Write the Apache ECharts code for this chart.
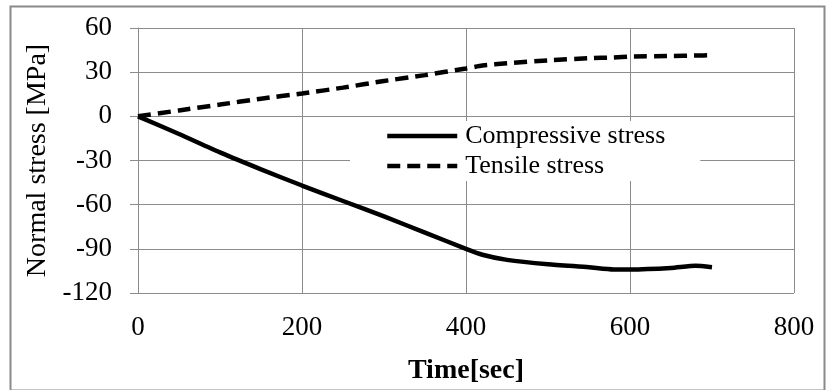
<!DOCTYPE html>
<html>
<head>
<meta charset="utf-8">
<script src="https://cdn.jsdelivr.net/npm/echarts@6/dist/echarts.min.js"></script>
<style>html,body{margin:0;padding:0;background:#fff}#c{width:827px;height:390px}</style>
</head>
<body>
<div id="c"></div>
<script>
var timeSec = [0, 50, 100, 150, 200, 250, 300, 350, 400, 420, 450, 500, 550, 580, 600, 650, 680, 700];
var compressive = [0, -12, -24.5, -36, -47, -57.5, -68, -79, -90, -94, -97.5, -100.5, -102.5, -104, -104, -103, -101.5, -102.5];
var tensile = [0, 4, 8, 12, 15.5, 19.5, 24, 28, 32.5, 34.5, 36, 38, 39.5, 40, 40.6, 41, 41.3, 41.5];
var seriesNames = ['Compressive stress', 'Tensile stress'];
var xTicks = [0, 200, 400, 600, 800];
var yTicks = [-120, -90, -60, -30, 0, 30, 60];
var xTitle = 'Time[sec]';
var yTitle = 'Normal stress [MPa]';

function pairs(xs, ys) { return xs.map(function (x, i) { return [x, ys[i]]; }); }

var FONT = 'Liberation Serif';
var chart = echarts.init(document.getElementById('c'), null, { renderer: 'canvas' });
chart.setOption({
  animation: false,
  backgroundColor: '#fff',
  graphic: [{
    type: 'rect', left: 8, top: 4, z: -1,
    shape: { width: 814, height: 384 },
    style: { fill: 'none', stroke: '#8a8a8a', lineWidth: 2 }
  }],
  grid: { left: 138, right: 33, top: 28, bottom: 93 },
  legend: {
    orient: 'vertical', left: 350, top: 121,
    padding: [2, 35, 2, 35], itemGap: 4, itemWidth: 70, itemHeight: 14,
    backgroundColor: '#fff',
    itemStyle: { color: 'rgba(0,0,0,0)', borderWidth: 0, opacity: 0 },
    lineStyle: { width: 4.5, color: '#000' },
    textStyle: { fontFamily: FONT, fontSize: 26, color: '#000', padding: [0, 0, 0, 3] },
    data: seriesNames
  },
  xAxis: {
    type: 'value', min: xTicks[0], max: xTicks[xTicks.length - 1], interval: 200,
    name: xTitle, nameLocation: 'middle', nameGap: 64,
    nameTextStyle: { fontFamily: FONT, fontSize: 28, fontWeight: 'bold', color: '#000' },
    axisLine: { show: true, lineStyle: { color: '#8c8c8c', width: 1 } },
    axisTick: { show: false },
    axisLabel: { fontFamily: FONT, fontSize: 27, color: '#000', margin: 21 },
    splitLine: { show: true, lineStyle: { color: '#8c8c8c', width: 1 } }
  },
  yAxis: {
    type: 'value', min: yTicks[0], max: yTicks[yTicks.length - 1], interval: 30,
    name: yTitle, nameLocation: 'middle', nameGap: 82, nameRotate: 90,
    nameTextStyle: { fontFamily: FONT, fontSize: 28, color: '#000' },
    axisLine: { show: true, lineStyle: { color: '#8c8c8c', width: 1 } },
    axisTick: { show: true, length: 8, lineStyle: { color: '#8c8c8c', width: 1 } },
    axisLabel: { fontFamily: FONT, fontSize: 27, color: '#000', margin: 26 },
    splitLine: { show: true, lineStyle: { color: '#8c8c8c', width: 1 } }
  },
  series: [{
    name: seriesNames[0], type: 'line', data: pairs(timeSec, compressive),
    showSymbol: false, symbol: 'none', smooth: 0.2,
    lineStyle: { color: '#000', width: 4.5, type: 'solid' },
    itemStyle: { color: '#000' }
  }, {
    name: seriesNames[1], type: 'line', data: pairs(timeSec, tensile),
    showSymbol: false, symbol: 'none', smooth: 0.2,
    lineStyle: { color: '#000', width: 4.5, type: [13, 7] },
    itemStyle: { color: '#000' }
  }]
});
</script>
</body>
</html>
